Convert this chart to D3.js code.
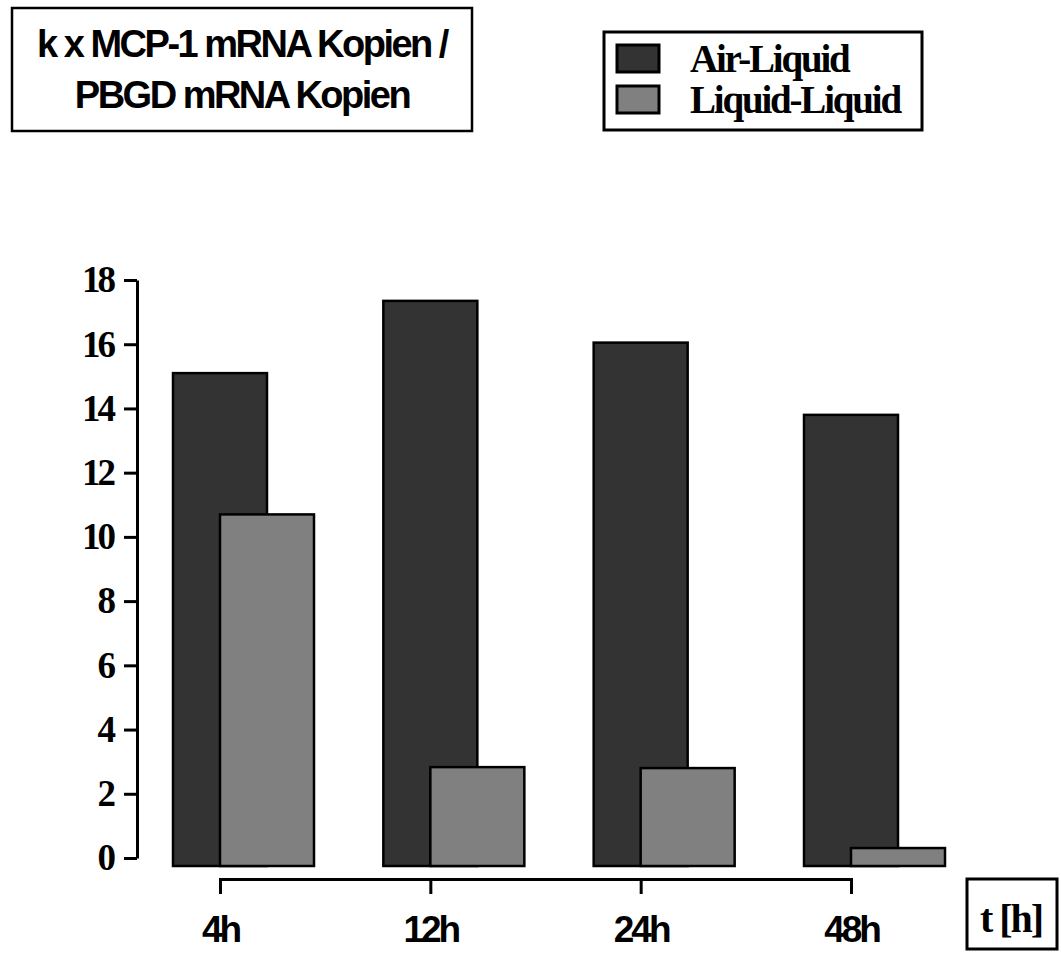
<!DOCTYPE html>
<html>
<head>
<meta charset="utf-8">
<script src="https://cdn.jsdelivr.net/npm/d3@7"></script>
<style>
  body { margin: 0; background: #fff; }
  .serif { font-family: "Liberation Serif", "Times New Roman", serif; font-weight: bold; }
  .sans { font-family: "Liberation Sans", Arial, sans-serif; font-weight: bold; }
</style>
</head>
<body>
<svg id="chart" width="1061" height="953"></svg>
<script>
// data
const categories = ['4h', '12h', '24h', '48h'];
const airLiquid = [15.1, 17.35, 16.05, 13.8];
const liquidLiquid = [10.7, 2.83, 2.8, 0.31];
const yTicks = [0, 2, 4, 6, 8, 10, 12, 14, 16, 18];
const seriesNames = ['Air-Liquid', 'Liquid-Liquid'];
const seriesColors = ['#333333', '#808080'];
const titleLines = ['k x MCP-1 mRNA Kopien /', 'PBGD mRNA Kopien'];

const svg = d3.select('#chart');

const y = d3.scaleLinear()
  .domain([0, 18])
  .range([858, 280]);

const x = d3.scalePoint()
  .domain(categories)
  .range([220, 851]);

const barWidth = 94;
const barBase = 866;

// bars: Air-Liquid first, Liquid-Liquid on top shifted half a bar right
const series = [airLiquid, liquidLiquid];
series.forEach((values, si) => {
  svg.append('g')
    .selectAll('rect')
    .data(values)
    .join('rect')
      .attr('x', (d, i) => x(categories[i]) - barWidth / 2 + si * barWidth / 2)
      .attr('y', d => y(d))
      .attr('width', barWidth)
      .attr('height', d => barBase - y(d))
      .attr('fill', seriesColors[si])
      .attr('stroke', '#000')
      .attr('stroke-width', 2.5);
});

// y axis
const yAxis = svg.append('g')
  .attr('transform', 'translate(137,0)')
  .call(d3.axisLeft(y).tickValues(yTicks).tickSize(13).tickSizeOuter(0).tickPadding(11));
yAxis.select('.domain').attr('stroke-width', 3);
yAxis.selectAll('.tick line').attr('stroke-width', 3);
yAxis.selectAll('.tick text')
  .attr('class', 'serif')
  .attr('font-size', 37)
  .attr('letter-spacing', -3)
  .attr('fill', '#000');

// x axis
const xAxis = svg.append('g')
  .attr('transform', 'translate(0,879)')
  .call(d3.axisBottom(x).tickSize(15).tickSizeOuter(15).tickPadding(22));
xAxis.select('.domain').attr('stroke-width', 3);
xAxis.selectAll('.tick line').attr('stroke-width', 3);
xAxis.selectAll('.tick text')
  .attr('class', 'sans')
  .attr('font-size', 37)
  .attr('letter-spacing', -3)
  .attr('fill', '#000');

// title box
const title = svg.append('g');
title.append('rect')
  .attr('x', 12).attr('y', 8)
  .attr('width', 460).attr('height', 123)
  .attr('fill', 'none')
  .attr('stroke', '#000')
  .attr('stroke-width', 2.5);
title.selectAll('text')
  .data(titleLines)
  .join('text')
    .attr('class', 'sans')
    .attr('x', 242)
    .attr('y', (d, i) => 57 + i * 51)
    .attr('text-anchor', 'middle')
    .attr('font-size', 38)
    .attr('letter-spacing', -2.5)
    .text(d => d);

// legend
const legend = svg.append('g');
legend.append('rect')
  .attr('x', 604).attr('y', 32)
  .attr('width', 318).attr('height', 98)
  .attr('fill', 'none')
  .attr('stroke', '#000')
  .attr('stroke-width', 3);
const items = legend.selectAll('g.item')
  .data(seriesNames)
  .join('g')
    .attr('class', 'item')
    .attr('transform', (d, i) => `translate(0,${i * 41})`);
items.append('rect')
  .attr('x', 617).attr('y', 45)
  .attr('width', 42).attr('height', 27)
  .attr('fill', (d, i) => seriesColors[i])
  .attr('stroke', '#000')
  .attr('stroke-width', 3);
items.append('text')
  .attr('class', 'serif')
  .attr('x', 690)
  .attr('y', 72)
  .attr('font-size', 39)
  .attr('letter-spacing', -2.2)
  .text(d => d);

// x axis unit box
const unit = svg.append('g');
unit.append('rect')
  .attr('x', 967).attr('y', 879)
  .attr('width', 90).attr('height', 70)
  .attr('fill', 'none')
  .attr('stroke', '#000')
  .attr('stroke-width', 3);
unit.append('text')
  .attr('class', 'serif')
  .attr('x', 1011)
  .attr('y', 932)
  .attr('text-anchor', 'middle')
  .attr('font-size', 40)
  .attr('letter-spacing', -2)
  .text('t [h]');
</script>
</body>
</html>
